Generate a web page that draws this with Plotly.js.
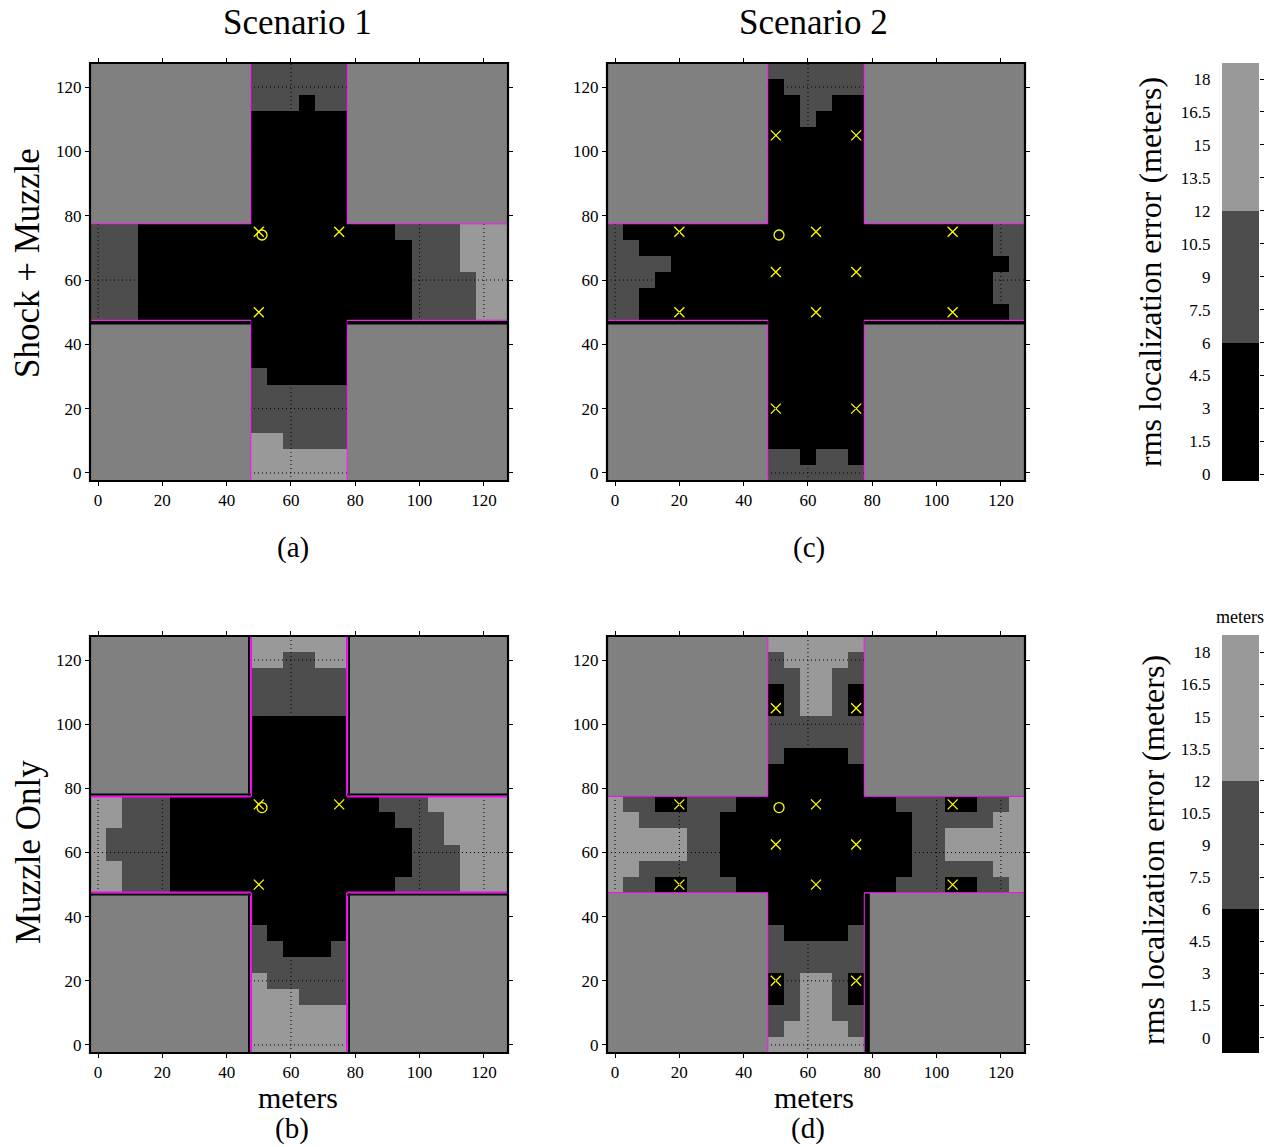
<!DOCTYPE html>
<html><head><meta charset="utf-8">
<script src="https://cdn.plot.ly/plotly-3.0.1.min.js"></script>
<style>html,body{margin:0;padding:0;background:#fff}#chart{width:1276px;height:1147px}</style>
</head><body><div id="chart"></div>
<script>
// ---------- data ----------
const cellCenters = [0,5,10,15,20,25,30,35,40,45,50,55,60,65,70,75,80,85,90,95,100,105,110,115,120,125];
const gridTicks = [0,20,40,60,80,100,120];
const errorBinEdges = [0,6,12,18];
const errorBinMids = [3,9,15];
const cbTicks = [0,1.5,3,4.5,6,7.5,9,10.5,12,13.5,15,16.5,18];

// building footprints (meters)
const buildingX0 = [-2.5, 77.5, -2.5, 77.5];
const buildingX1 = [47.5, 127.5, 47.5, 127.5];
const buildingY0 = [77.5, 77.5, -2.5, -2.5];
const buildingY1 = [127.5, 127.5, 47.5, 47.5];

// sensors and source
const sensors1X = [50, 75, 50];
const sensors1Y = [75, 75, 50];
const sensors2X = [50, 75, 20, 62.5, 105, 50, 75, 20, 62.5, 105, 50, 75];
const sensors2Y = [105, 105, 75, 75, 75, 62.5, 62.5, 50, 50, 50, 20, 20];
const sourceX = [51];
const sourceY = [74];

// error level per cell (0: <6 m, 1: 6-12 m, 2: >12 m, '.': building); rows from y=125 down to y=0
const gridA = [
"..........111111..........",
"..........111111..........",
"..........111011..........",
"..........000000..........",
"..........000000..........",
"..........000000..........",
"..........000000..........",
"..........000000..........",
"..........000000..........",
"..........000000..........",
"11100000000000000001111222",
"11100000000000000000111222",
"11100000000000000000111222",
"11100000000000000000111122",
"11100000000000000000111122",
"11100000000000000000111122",
"..........000000..........",
"..........000000..........",
"..........000000..........",
"..........100000..........",
"..........111111..........",
"..........111111..........",
"..........111111..........",
"..........221111..........",
"..........222222..........",
"..........222222.........."];

const gridC = [
"..........111111..........",
"..........011111..........",
"..........001100..........",
"..........001000..........",
"..........000000..........",
"..........000000..........",
"..........000000..........",
"..........000000..........",
"..........000000..........",
"..........000000..........",
"10000000000000000000000011",
"11000000000000000000000011",
"11110000000000000000000001",
"11100000000000000000000011",
"11000000000000000000000011",
"11000000000000000000000001",
"..........000000..........",
"..........000000..........",
"..........000000..........",
"..........000000..........",
"..........000000..........",
"..........000000..........",
"..........000000..........",
"..........000000..........",
"..........110110..........",
"..........111111.........."];

const gridB = [
"..........222222..........",
"..........221122..........",
"..........111111..........",
"..........111111..........",
"..........111111..........",
"..........000000..........",
"..........000000..........",
"..........000000..........",
"..........000000..........",
"..........000000..........",
"22111000000000000011122222",
"22111000000000000001112222",
"21111000000000000000112222",
"21111000000000000000111222",
"22111000000000000000111222",
"22111000000000000001111222",
"..........000000..........",
"..........000000..........",
"..........100000..........",
"..........110001..........",
"..........111111..........",
"..........211111..........",
"..........222111..........",
"..........222222..........",
"..........222222..........",
"..........222222.........."];

const gridD = [
"..........222222..........",
"..........122221..........",
"..........112211..........",
"..........012210..........",
"..........012210..........",
"..........111111..........",
"..........111111..........",
"..........100001..........",
"..........000000..........",
"..........000000..........",
"21100111000000000011100112",
"22111110000000000001111122",
"22222110000000000001122222",
"22222110000000000001122222",
"22111110000000000001111122",
"21100111000000000011100112",
"..........000000..........",
"..........000000..........",
"..........100001..........",
"..........111111..........",
"..........111111..........",
"..........012210..........",
"..........012210..........",
"..........112211..........",
"..........122221..........",
"..........222222.........."];

// ---------- layout helpers ----------
const W = 1276, H = 1147;
const FONT = 'Liberation Serif, Times New Roman, serif';
const dx = (a, b) => [a / W, b / W];
const dy = (top, bottom) => [1 - bottom / H, 1 - top / H];
const px = v => v / W;
const py = v => 1 - v / H;
const AX_RANGE = [-2.5, 127.5];

const colorscale = [[0,'#000000'],[1/3,'#000000'],[1/3,'#4d4d4d'],[2/3,'#4d4d4d'],[2/3,'#999999'],[1,'#999999']];
const toZ = rows => rows.slice().reverse().map(r => r.split('').map(c => c === '.' ? null : errorBinMids[+c]));

const panels = [
  {grid: gridA, sx: sensors1X, sy: sensors1Y, n: '',  xd: dx(90,508),  yd: dy(63,481),  style: 'seam'},
  {grid: gridC, sx: sensors2X, sy: sensors2Y, n: '2', xd: dx(607,1025), yd: dy(63,481),  style: 'seam'},
  {grid: gridB, sx: sensors1X, sy: sensors1Y, n: '3', xd: dx(90,508),  yd: dy(636,1053), style: 'double'},
  {grid: gridD, sx: sensors2X, sy: sensors2Y, n: '4', xd: dx(607,1025), yd: dy(636,1053), style: 'edge'}
];

const traces = [];
const shapes = [];
const layout = {
  width: W, height: H,
  margin: {l:0, r:0, t:0, b:0},
  paper_bgcolor: '#ffffff', plot_bgcolor: '#ffffff',
  font: {family: FONT, color: '#000'},
  showlegend: false,
  shapes: shapes,
  annotations: []
};

const axisBase = {
  range: AX_RANGE, tickmode: 'array', tickvals: gridTicks,
  ticks: 'outside', ticklen: 4, tickwidth: 1, tickcolor: '#000',
  mirror: 'ticks', showline: true, linecolor: '#000', linewidth: 1,
  showgrid: false, zeroline: false, fixedrange: true,
  tickfont: {family: FONT, size: 17, color: '#000'}
};

const interior = v => v > AX_RANGE[0] && v < AX_RANGE[1];

panels.forEach(p => {
  const xa = 'x' + p.n, ya = 'y' + p.n;
  layout['xaxis' + p.n] = Object.assign({}, axisBase, {domain: p.xd, anchor: ya});
  layout['yaxis' + p.n] = Object.assign({}, axisBase, {domain: p.yd, anchor: xa});

  traces.push({
    type: 'heatmap', x: cellCenters, y: cellCenters, z: toZ(p.grid),
    xaxis: xa, yaxis: ya, colorscale: colorscale, zmin: errorBinEdges[0], zmax: errorBinEdges[errorBinEdges.length-1],
    showscale: false, hoverinfo: 'skip', zsmooth: false
  });
  traces.push({
    type: 'scatter', mode: 'markers', x: p.sx, y: p.sy, xaxis: xa, yaxis: ya,
    marker: {symbol: 'x-thin-open', size: 10, color: '#ffff00', line: {color: '#ffff00', width: 1.3}},
    hoverinfo: 'skip'
  });
  traces.push({
    type: 'scatter', mode: 'markers', x: sourceX, y: sourceY, xaxis: xa, yaxis: ya,
    marker: {symbol: 'circle-open', size: 10, color: '#ffff00', line: {color: '#ffff00', width: 1.3}},
    hoverinfo: 'skip'
  });

  // dotted grid drawn over the error map
  gridTicks.forEach(v => {
    shapes.push({type:'line', layer:'above', xref: xa, yref: ya + ' domain', x0: v, x1: v, y0: 0, y1: 1,
      line: {color:'#000', width: 1, dash: '1px,3px'}});
    shapes.push({type:'line', layer:'above', xref: xa + ' domain', yref: ya, x0: 0, x1: 1, y0: v, y1: v,
      line: {color:'#000', width: 1, dash: '1px,3px'}});
  });
  // buildings
  buildingX0.forEach((b, i) => {
    const x0 = buildingX0[i], x1 = buildingX1[i], y0 = buildingY0[i], y1 = buildingY1[i];
    if (p.style === 'double') {
      shapes.push({type:'rect', layer:'above', xref: xa, yref: ya, x0: x0, x1: x1, y0: y0, y1: y1,
        fillcolor: '#808080', line: {width: 0}});
      // street-facing edges: dark inner line + magenta outline
      const edges = [];
      if (interior(x0)) edges.push({x0: x0, x1: x0, y0: y0, y1: y1, ix: 1, iy: 0});
      if (interior(x1)) edges.push({x0: x1, x1: x1, y0: y0, y1: y1, ix: -1, iy: 0});
      if (interior(y0)) edges.push({x0: x0, x1: x1, y0: y0, y1: y0, ix: 0, iy: 1});
      if (interior(y1)) edges.push({x0: x0, x1: x1, y0: y1, y1: y1, ix: 0, iy: -1});
      edges.forEach(e => {
        const o = 0.55;
        shapes.push({type:'line', layer:'above', xref: xa, yref: ya,
          x0: e.x0 + e.ix * o, x1: e.x1 + e.ix * o, y0: e.y0 + e.iy * o, y1: e.y1 + e.iy * o,
          line: {color: '#000', width: 2}});
        shapes.push({type:'line', layer:'above', xref: xa, yref: ya,
          x0: e.x0 - e.ix * 0.1, x1: e.x1 - e.ix * 0.1, y0: e.y0 - e.iy * 0.1, y1: e.y1 - e.iy * 0.1,
          line: {color: '#ff00ff', width: 1.8}});
      });
    } else {
      shapes.push({type:'rect', layer:'above', xref: xa, yref: ya, x0: x0, x1: x1, y0: y0, y1: y1,
        fillcolor: '#808080', line: {color: '#ff00ff', width: 1}});
    }
  });
  if (p.style === 'seam') {
    // dark seam just under the magenta edge of the lower buildings
    [2, 3].forEach(i => {
      shapes.push({type:'line', layer:'above', xref: xa, yref: ya,
        x0: buildingX0[i], x1: buildingX1[i], y0: buildingY1[i] - 0.75, y1: buildingY1[i] - 0.75,
        line: {color: '#000', width: 3.5}});
    });
  }
  if (p.style === 'edge') {
    shapes.push({type:'line', layer:'above', xref: xa, yref: ya,
      x0: buildingX0[3] + 0.95, x1: buildingX0[3] + 0.95, y0: buildingY0[3], y1: buildingY1[3] - 0.3,
      line: {color: '#000', width: 5}});
  }
  // frame
  shapes.push({type:'rect', layer:'above', xref: xa + ' domain', yref: ya + ' domain', x0: 0, x1: 1, y0: 0, y1: 1,
    fillcolor: 'rgba(0,0,0,0)', line: {color: '#000', width: 2.2}});
});

// ---------- colour bars ----------
const cbDefs = [
  {xn: '5', yn: '5', on: '7', yd: dy(63,481), range: [-0.305, 18.73]},
  {xn: '6', yn: '6', on: '8', yd: dy(635,1053), range: [-0.72, 18.81]}
];
cbDefs.forEach(c => {
  layout['xaxis' + c.xn] = {domain: dx(1222,1259), range: [0,1], anchor: 'y' + c.yn, visible: false, fixedrange: true};
  layout['yaxis' + c.yn] = {domain: c.yd, range: c.range, anchor: 'x' + c.xn, side: 'left',
    tickmode: 'array', tickvals: cbTicks, ticks: 'outside', ticklen: 7, tickcolor: 'rgba(0,0,0,0)',
    showline: false, showgrid: false, zeroline: false, fixedrange: true,
    tickfont: {family: FONT, size: 17, color: '#000'}};
  layout['yaxis' + c.on] = {overlaying: 'y' + c.yn, range: c.range, anchor: 'x' + c.xn, side: 'right',
    tickmode: 'array', tickvals: cbTicks, ticks: 'outside', ticklen: 4, tickcolor: '#000',
    showticklabels: false, showline: false, showgrid: false, zeroline: false, fixedrange: true};
  const yEdges = [c.range[0]].concat(errorBinEdges.slice(1, -1), [c.range[1]]);
  [c.yn, c.on].forEach(yn => {
    traces.push({type: 'heatmap', x: [0, 1], y: yEdges, z: errorBinMids.map(v => [v]),
      xaxis: 'x' + c.xn, yaxis: 'y' + yn, colorscale: colorscale,
      zmin: errorBinEdges[0], zmax: errorBinEdges[errorBinEdges.length-1], showscale: false, hoverinfo: 'skip'});
  });
});

// ---------- texts ----------
const ann = (text, x, y, size, angle) => layout.annotations.push({
  text: text, xref: 'paper', yref: 'paper', x: px(x), y: py(y), xanchor: 'center', yanchor: 'middle',
  showarrow: false, textangle: angle || 0, font: {family: FONT, size: size, color: '#000'}
});
ann('Scenario 1', 297, 22, 35);
ann('Scenario 2', 813, 22, 35);
ann('Shock + Muzzle', 28, 263, 35, -90);
ann('Muzzle Only', 28, 852, 35, -90);
ann('(a)', 293, 548, 29);
ann('(c)', 809, 548, 29);
ann('meters', 298, 1097, 30);
ann('meters', 814, 1097, 30);
ann('(b)', 292, 1128, 29);
ann('(d)', 808, 1128, 29);
ann('rms localization error (meters)', 1150, 272, 32, -90);
ann('rms localization error (meters)', 1153, 850, 32, -90);
ann('meters', 1240, 617, 18);

Plotly.newPlot('chart', traces, layout, {staticPlot: true, displayModeBar: false});
</script>
</body></html>
